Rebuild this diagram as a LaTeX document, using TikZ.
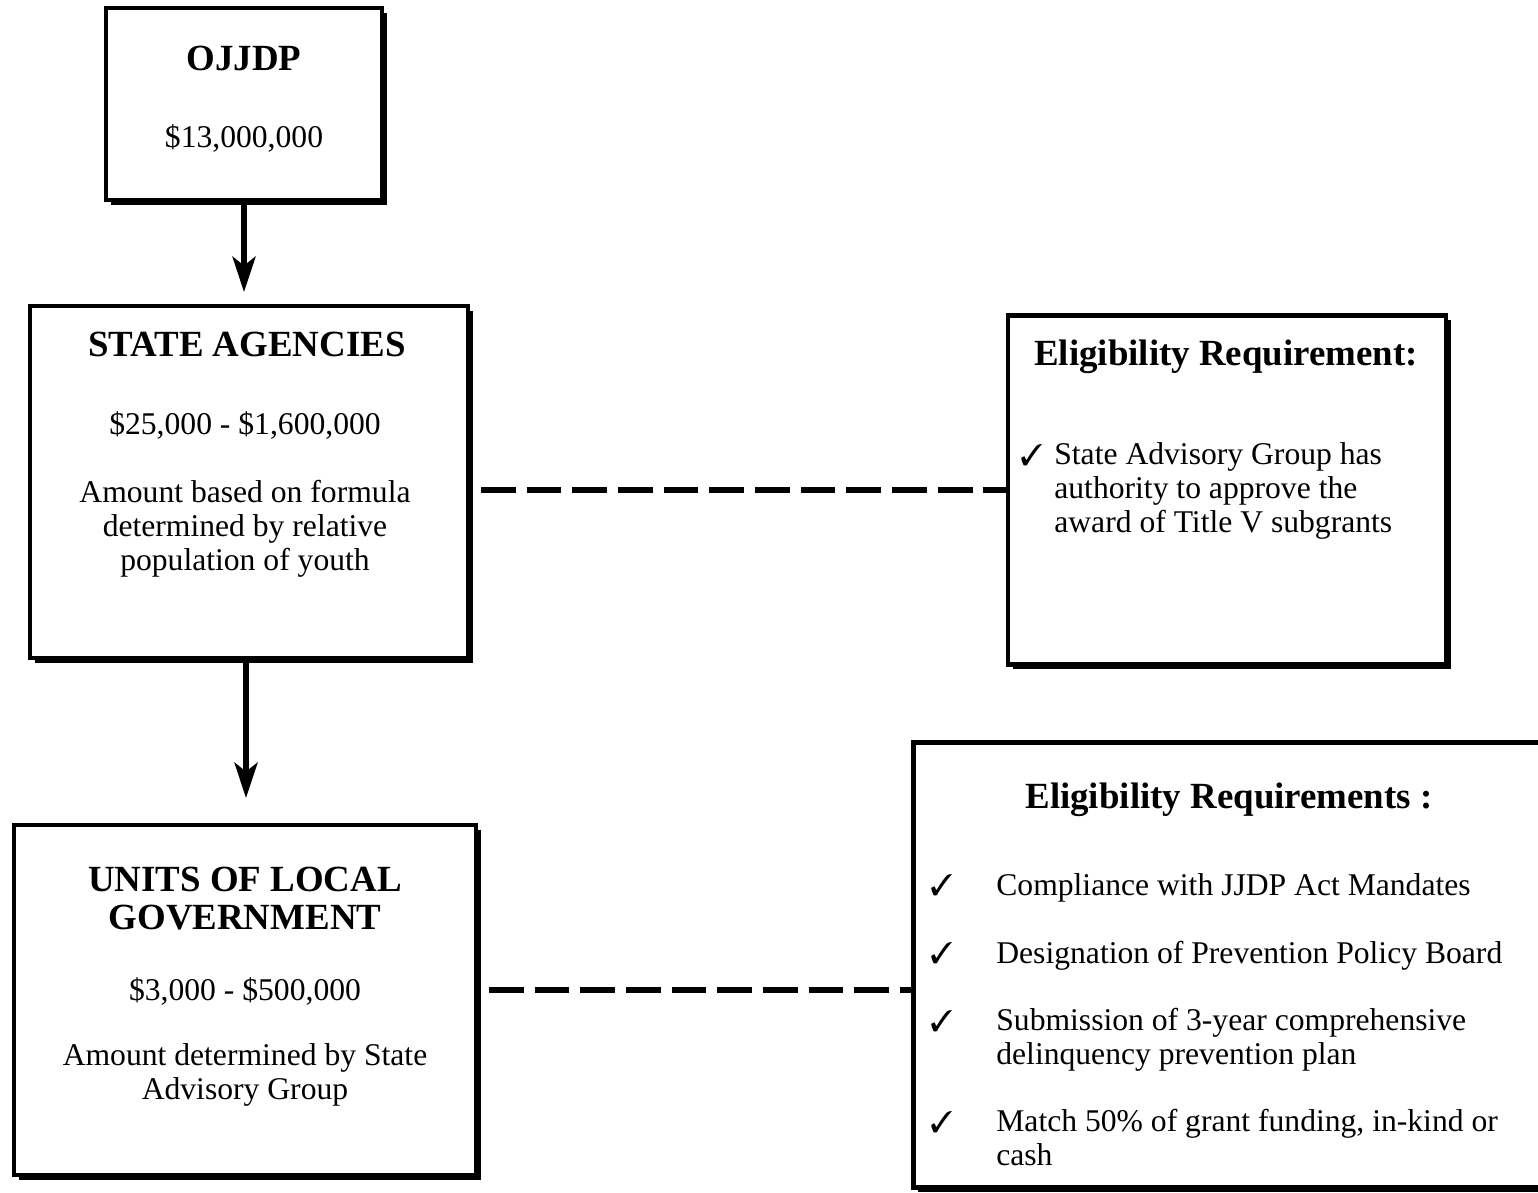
\documentclass[tikz,border=0pt]{standalone}
\usepackage{fontspec}
\setmainfont{Liberation Serif}
\usepackage{pifont}
\usetikzlibrary{arrows.meta,shadows,positioning}
\tikzstyle{box} = [draw, line width=2.3pt, fill=white, inner sep=0pt,
drop shadow={shadow xshift=2.8pt, shadow yshift=-2.8pt, fill=black, opacity=1}]
\tikzstyle{head} = [inner sep=0pt, anchor=base, align=center,
font=\fontsize{21}{21.5}\selectfont\bfseries]
\tikzstyle{txt} = [inner sep=0pt, anchor=base, align=center,
font=\fontsize{18}{19.3}\selectfont]
\tikzstyle{item} = [inner sep=0pt, anchor=base west, align=left,
font=\fontsize{18}{19.3}\selectfont]
\tikzstyle{tick} = [inner sep=0pt, anchor=base west, font=\fontsize{17}{17}\selectfont]
\tikzstyle{arrow} = [-{Stealth[length=20pt,width=13pt,inset=5pt]}, line width=3.4pt]
\tikzstyle{link} = [line width=3.4pt, dash pattern=on 19.8pt off 6.2pt, dash phase=19.8pt]

\begin{document}
\begin{tikzpicture}[x=0.02cm, y=-0.02cm]
    \useasboundingbox (0,0) rectangle (1538,1193);

    % funding boxes
    \node[box, minimum width=276*0.02cm, minimum height=192*0.02cm] (ojjdp) at (244,104) {};
    \node[box, minimum width=438*0.02cm, minimum height=352*0.02cm] (state) at (249,482) {};
    \node[box, minimum width=462*0.02cm, minimum height=350*0.02cm] (local) at (245,1000) {};

    % requirement boxes
    \node[box, minimum width=438*0.02cm, minimum height=349*0.02cm] (reqstate) at (1227,490) {};
    \node[box, minimum width=631*0.02cm, minimum height=445*0.02cm] (reqlocal) at (1229,965) {};

    % texts (base = last line)
    \node[head] (ojjdptitle) at (244,71) {OJJDP};
    \node[txt]  (ojjdpsum)   at (244,148) {\$13,000,000};

    \node[head] (statetitle) at (247,356) {STATE AGENCIES};
    \node[txt]  (statesum)   at (245,434) {\$25,000 - \$1,600,000};
    \node[txt]  (statenote)  at (245,570) {Amount based on formula\\determined by relative\\population of youth};

    \node[head] (localtitle) at (245,929) {UNITS OF LOCAL\\GOVERNMENT};
    \node[txt]  (localsum)   at (245,1000) {\$3,000 - \$500,000};
    \node[txt]  (localnote)  at (245,1099) {Amount determined by State\\Advisory Group};

    \node[head] (reqstatetitle) at (1226,365) {Eligibility Requirement:};
    \node[tick] (t0) at (1020,465) {\ding{51}};
    \node[item] (r0) at (1054,532) {State Advisory Group has\\authority to approve the\\award of Title V subgrants};

    \node[head] (reqlocaltitle) at (1229,808) {Eligibility Requirements :};
    \node[tick] (t1) at (930,895) {\ding{51}};
    \node[item] (r1) at (996,895) {Compliance with JJDP Act Mandates};
    \node[tick] (t2) at (930,963) {\ding{51}};
    \node[item] (r2) at (996,963) {Designation of Prevention Policy Board};
    \node[tick] (t3) at (930,1031) {\ding{51}};
    \node[item] (r3) at (996,1064) {Submission of 3-year comprehensive\\delinquency prevention plan};
    \node[tick] (t4) at (930,1132) {\ding{51}};
    \node[item] (r4) at (996,1165) {Match 50\% of grant funding, in-kind or\\cash};

    \draw[arrow, shorten >=12*0.02cm] (ojjdp.south) -- (ojjdp.south |- state.north);
    \draw[arrow, shorten >=25*0.02cm] ([xshift=-3*0.02cm]state.south) -- ([xshift=-3*0.02cm]state.south |- local.north);

    \draw[link] (reqstate.west -| state.east) -- (reqstate.west);
    \draw[link] ([yshift=2mm]local.east) -- ([yshift=2mm]local.east -| reqlocal.west);
\end{tikzpicture}
\end{document}
